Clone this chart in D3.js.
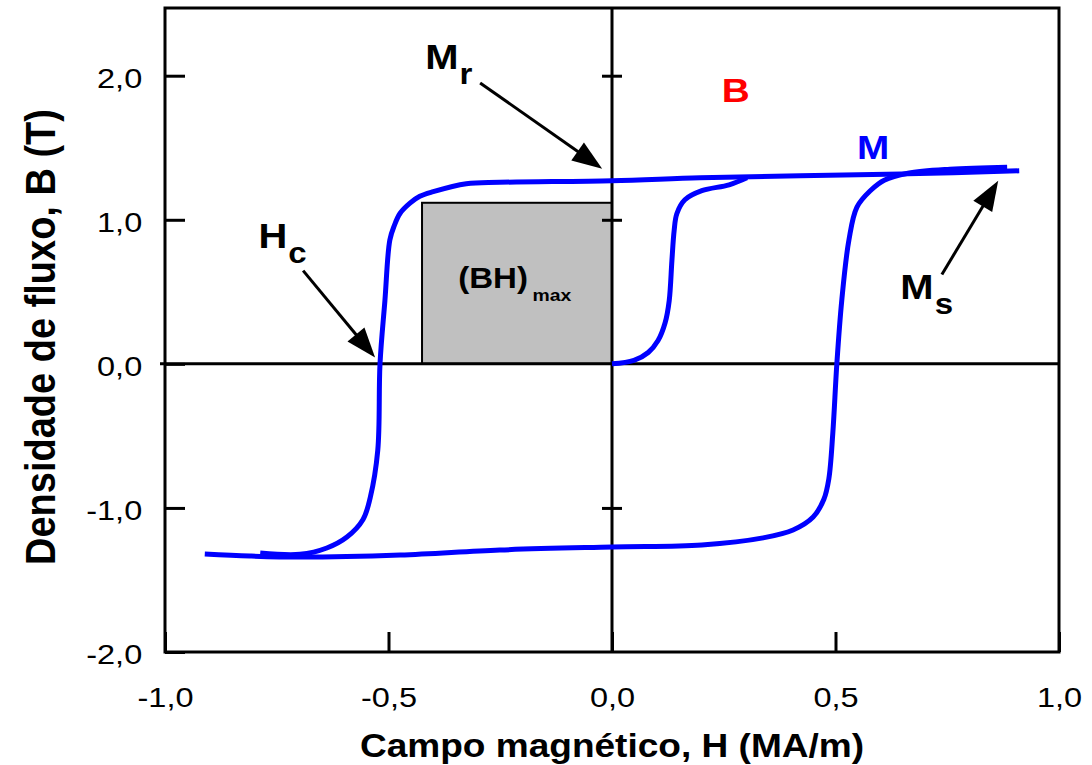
<!DOCTYPE html>
<html lang="pt">
<head>
<meta charset="UTF-8">
<title>Curva de histerese</title>
<style>
  body { margin: 0; background: #fff; }
  svg text { font-family: Arial, "Liberation Sans", Helvetica, sans-serif; }
  .frame, .zero { fill: none; stroke: #000; stroke-width: 3px; }
  .tick line { stroke: #000; stroke-width: 3px; }
  .loop { fill: none; stroke: #0000ff; stroke-width: 5px; stroke-linejoin: round; stroke-linecap: butt; }
  .arrow line { stroke: #000; stroke-width: 3px; }
  .bh { fill: #c0c0c0; stroke: #000; stroke-width: 2px; }
</style>
</head>
<body>
<svg width="1092" height="765"></svg>
<script src="https://d3js.org/d3.v7.min.js"></script>
<script>
const xTicks = [-1, -0.5, 0, 0.5, 1];
const yTicks = [-2, -1, 0, 1, 2];
const midTicks = [-1, 1, 2];

// H (MA/m), B (T)
// ramo descendente: de +saturacao ate -saturacao
const upperBranch = [
  [0.911, 1.340], [0.662, 1.319], [0.421, 1.306], [0.197, 1.292], [0, 1.271],
  [-0.251, 1.260], [-0.326, 1.250], [-0.400, 1.195], [-0.430, 1.163], [-0.452, 1.115],
  [-0.474, 1.045], [-0.487, 0.96], [-0.497, 0.86], [-0.508, 0.44], [-0.519, 0],
  [-0.524, -0.60], [-0.541, -0.93], [-0.557, -1.080], [-0.593, -1.202], [-0.638, -1.278],
  [-0.698, -1.322], [-0.787, -1.313]
];
// ramo ascendente: de -saturacao ate +saturacao
const lowerBranch = [
  [-0.911, -1.320], [-0.810, -1.334], [-0.698, -1.341], [-0.474, -1.327], [-0.251, -1.292],
  [0, -1.271], [0.201, -1.257], [0.338, -1.208], [0.405, -1.153], [0.450, -1.063],
  [0.474, -0.94], [0.485, -0.80], [0.494, -0.48], [0.503, 0], [0.514, 0.44],
  [0.530, 0.859], [0.548, 1.088], [0.579, 1.205], [0.609, 1.275], [0.662, 1.323],
  [0.756, 1.351], [0.884, 1.365]
];
// curva de magnetizacao inicial
const initialCurve = [
  [0, 0], [0.049, 0.024], [0.081, 0.079], [0.103, 0.162], [0.119, 0.287], [0.128, 0.439],
  [0.134, 0.716], [0.139, 0.924], [0.145, 1.042], [0.163, 1.139], [0.201, 1.202],
  [0.262, 1.243], [0.302, 1.292]
];

const bhMax = { h: -0.425, b: 1.118 };

const arrows = [
  { from: [-0.295, 1.95], to: [-0.022, 1.355] },
  { from: [-0.691, 0.647], to: [-0.530, 0.044] },
  { from: [0.738, 0.620], to: [0.864, 1.271] }
];

const labels = [
  { text: "M", sub: "r", at: [-0.418, 2.047], color: "#000" },
  { text: "H", sub: "c", at: [-0.791, 0.807], color: "#000" },
  { text: "M", sub: "s", at: [0.645, 0.453], color: "#000" },
  { text: "B", sub: "", at: [0.277, 1.818], color: "#ff0000", anchor: "middle" },
  { text: "M", sub: "", at: [0.584, 1.423], color: "#0000ff", anchor: "middle" }
];

const S = 1.14; // the figure is a little wider than the type

const svg = d3.select("svg");
const x = d3.scaleLinear().domain([-1, 1]).range([165, 1059]);
const y = d3.scaleLinear().domain([-2, 2.47]).range([652, 8]);

const fmt = d3.formatLocale({ decimal: ",", thousands: ".", grouping: [3], currency: ["", ""], minus: "-" }).format(".1f");

// gray (BH)max box
svg.append("rect")
  .attr("class", "bh")
  .attr("x", x(bhMax.h))
  .attr("y", y(bhMax.b))
  .attr("width", x(0) - x(bhMax.h))
  .attr("height", y(0) - y(bhMax.b));

// frame and zero lines
svg.append("rect")
  .attr("class", "frame")
  .attr("x", x(-1)).attr("y", y(2.47))
  .attr("width", x(1) - x(-1)).attr("height", y(-2) - y(2.47));

svg.append("line").attr("class", "zero")
  .attr("x1", x(-1) - 5).attr("x2", x(1))
  .attr("y1", y(0)).attr("y2", y(0));
svg.append("line").attr("class", "zero")
  .attr("x1", x(0)).attr("x2", x(0))
  .attr("y1", y(2.47)).attr("y2", y(-2));

// axes
const gy = svg.append("g")
  .attr("transform", `translate(${x(-1)},0)`)
  .call(d3.axisLeft(y).tickValues(yTicks).tickSize(-20).tickPadding(20).tickFormat(fmt));
const gx = svg.append("g")
  .attr("transform", `translate(0,${y(-2)})`)
  .call(d3.axisBottom(x).tickValues(xTicks).tickSize(-20).tickPadding(35).tickFormat(fmt));
svg.append("g")
  .attr("transform", `translate(${x(0) - 10},0)`)
  .call(d3.axisRight(y).tickValues(midTicks).tickSize(20).tickFormat(""));

svg.selectAll(".domain").remove();
svg.selectAll(".tick text")
  .attr("font-size", 28.5)
  .attr("font-family", "Arial, 'Liberation Sans', sans-serif")
  .attr("fill", "#000");
gy.selectAll(".tick text").attr("dy", "0.4em").attr("transform", `scale(${S},1)`);
gx.selectAll(".tick text").attr("transform", `scale(${S},1)`);

// hysteresis loop
const line = d3.line()
  .x(d => x(d[0]))
  .y(d => y(d[1]))
  .curve(d3.curveCatmullRom.alpha(0.5));

[upperBranch, lowerBranch, initialCurve].forEach(c => {
  svg.append("path").attr("class", "loop").attr("d", line(c));
});

// arrows
arrows.forEach(a => {
  const x1 = x(a.from[0]), y1 = y(a.from[1]);
  const x2 = x(a.to[0]), y2 = y(a.to[1]);
  const len = Math.hypot(x2 - x1, y2 - y1);
  const ux = (x2 - x1) / len, uy = (y2 - y1) / len;
  const L = 30, W = 11;
  const bx = x2 - ux * L, by = y2 - uy * L;
  const g = svg.append("g").attr("class", "arrow");
  g.append("line")
    .attr("x1", x1).attr("y1", y1)
    .attr("x2", bx + ux * 2).attr("y2", by + uy * 2);
  g.append("polygon")
    .attr("points", [[x2, y2], [bx - uy * W, by + ux * W], [bx + uy * W, by - ux * W]].map(p => p.join(",")).join(" "))
    .attr("fill", "#000");
});

// labels
labels.forEach(l => {
  const t = svg.append("text")
    .attr("transform", `translate(${x(l.at[0])},${y(l.at[1])}) scale(${S},1)`)
    .attr("text-anchor", l.anchor || "start")
    .attr("font-weight", "bold")
    .attr("font-size", l.sub ? 35 : 34)
    .attr("fill", l.color)
    .text(l.text);
  if (l.sub) {
    t.append("tspan").attr("font-size", 29).attr("dy", 15).attr("dx", 1).text(l.sub);
  }
});

const bhText = svg.append("text")
  .attr("transform", `translate(${x(-0.344)},${y(0.529)}) scale(${S},1)`)
  .attr("font-weight", "bold")
  .attr("font-size", 29)
  .text("(BH)");
bhText.append("tspan").attr("font-size", 17).attr("dy", 13).attr("dx", 4).text("max");

// axis titles
svg.append("text")
  .attr("transform", `translate(${x(0)},757) scale(${S},1)`)
  .attr("text-anchor", "middle")
  .attr("font-weight", "bold")
  .attr("font-size", 32.5)
  .text("Campo magnético, H (MA/m)");

svg.append("text")
  .attr("transform", `translate(55,${(y(2.47) + y(-2)) / 2 + 7}) rotate(-90) scale(1,${S})`)
  .attr("text-anchor", "middle")
  .attr("font-weight", "bold")
  .attr("font-size", 38)
  .text("Densidade de fluxo, B (T)");
</script>
</body>
</html>
